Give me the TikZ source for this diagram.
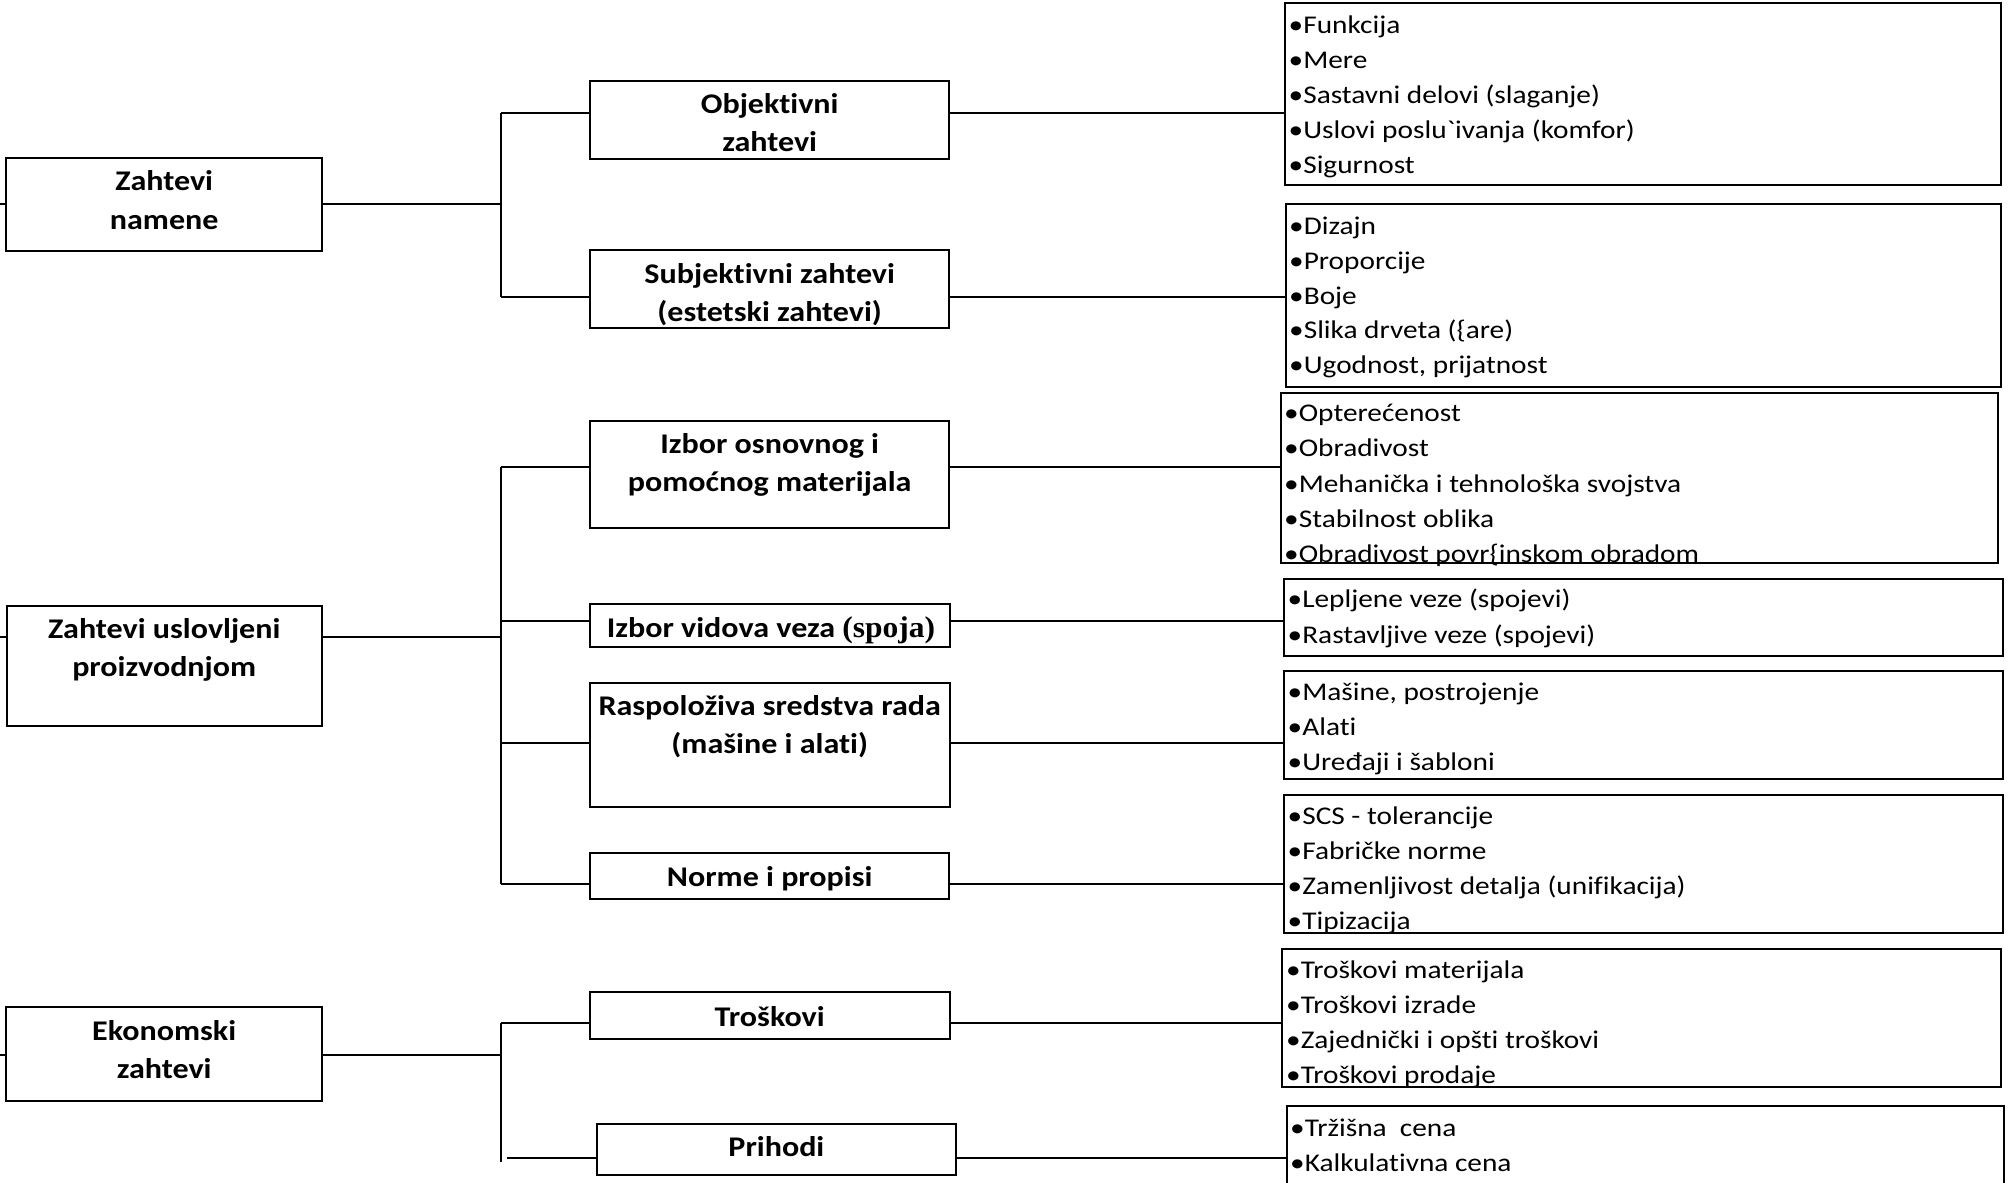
\documentclass[tikz,border=0pt]{standalone}
\usepackage{fontspec}
\newfontfamily\regf{Carlito}[FakeStretch=1.15,Ligatures={TeXOff,NoCommon}]
\newfontfamily\bldf{Carlito}[FakeStretch=1.125,Ligatures=NoCommon]
\newfontfamily\serf{Liberation Serif}[FakeStretch=1.05,BoldFont={Liberation Serif Bold}]
\newcommand\mybox[5]{\node[boxst, minimum width={(#4-#2)*1pt}, minimum height={(#5-#3)*1pt}] (#1) at ({(#2+#4)/2},{(#3+#5)/2}) {};}
\newcommand\myitems[5]{\foreach \t [count=\i from 0] in {#5} {\node[itx] (#1-\i) at (#2,{#3+\i*#4}) {•\t};}}
\begin{document}
\begin{tikzpicture}[x=1pt,y=-1pt,
  boxst/.style={draw, line width=2pt, inner sep=0pt},
  conn/.style={line width=2pt},
  itx/.style={font={\regf\fontsize{25.5pt}{35pt}\selectfont}, anchor=base west, inner sep=0pt},
  bt/.style={font={\bldf\bfseries\fontsize{28.5pt}{38pt}\selectfont}, anchor=base, inner sep=0pt}]
\fill[white] (0,0) rectangle (2011,1183);
\useasboundingbox (0,0) rectangle (2011,1183);

% left boxes
\mybox{L1}{6.4}{157.7}{322}{250.7}
\mybox{L2}{7}{606}{321.7}{726}
\mybox{L3}{6.4}{1006.7}{322}{1100.7}
\node[bt] (L1a) at (164.2,190.5) {Zahtevi};
\node[bt] (L1b) at (164.2,229) {namene};
\node[bt] (L2a) at (164.2,638.3) {Zahtevi uslovljeni};
\node[bt] (L2b) at (164.2,676.5) {proizvodnjom};
\node[bt] (L3a) at (164.2,1040) {Ekonomski};
\node[bt] (L3b) at (164.2,1078.3) {zahtevi};

% middle boxes
\mybox{M1}{590}{81}{949.3}{159}
\mybox{M2}{590}{250}{949.3}{328.3}
\mybox{M3}{590}{420.7}{949.3}{528.3}
\mybox{M4}{590}{604}{950}{647.3}
\mybox{M5}{590}{682.7}{950}{806.7}
\mybox{M6}{590}{852.7}{949.3}{899.3}
\mybox{M7}{590}{991.7}{950}{1039}
\mybox{M8}{596.5}{1124}{956.3}{1174.7}
\node[bt] (M1a) at (769.7,113.3) {Objektivni};
\node[bt] (M1b) at (769.7,151.7) {zahtevi};
\node[bt] (M2a) at (769.7,283.3) {Subjektivni zahtevi};
\node[bt] (M2b) at (769.7,321.3) {(estetski zahtevi)};
\node[bt] (M3a) at (769.7,453.3) {Izbor osnovnog i};
\node[bt] (M3b) at (769.7,491.7) {pomoćnog materijala};
\node[bt] (M4a) at (771,637.3) {Izbor vidova veza {\serf\bfseries\fontsize{30pt}{38pt}\selectfont (spoja)}};
\node[bt] (M5a) at (769.7,715) {Raspoloživa sredstva rada};
\node[bt] (M5b) at (769.7,753.5) {(mašine i alati)};
\node[bt] (M6a) at (769.7,886) {Norme i propisi};
\node[bt] (M7a) at (769.7,1026) {Troškovi};
\node[bt] (M8a) at (776.4,1156.7) {Prihodi};

% right boxes
\mybox{R1}{1285}{3.3}{2001}{185}
\mybox{R2}{1285.6}{204}{2001}{386.7}
\mybox{R3}{1280.5}{393.3}{1998}{562.7}
\mybox{R4}{1284}{579.3}{2002.6}{655.7}
\mybox{R5}{1284}{671}{2002.6}{779.3}
\mybox{R6}{1284}{795}{2002.6}{933.3}
\mybox{R7}{1282.4}{949.3}{2001.3}{1087.3}
\mybox{R8}{1286.7}{1106}{2004}{1200}
\myitems{R1t}{1288.5}{33.3}{35}{Funkcija,Mere,Sastavni delovi (slaganje),Uslovi poslu`ivanja (komfor),Sigurnost}
\myitems{R2t}{1289}{234.4}{34.8}{Dizajn,Proporcije,Boje,Slika drveta (\{are),{Ugodnost, prijatnost}}
\myitems{R3t}{1284}{421.7}{35.2}{Opterećenost,Obradivost,Mehanička i tehnološka svojstva,Stabilnost oblika,Obradivost povr\{inskom obradom}
\myitems{R4t}{1287.5}{607}{36}{Lepljene veze (spojevi),Rastavljive veze (spojevi)}
\myitems{R5t}{1287.5}{700}{35}{{Mašine, postrojenje},Alati,Uređaji i šabloni}
\myitems{R6t}{1287.5}{824}{35.3}{SCS - tolerancije,Fabričke norme,Zamenljivost detalja (unifikacija),Tipizacija}
\myitems{R7t}{1286}{978}{35.3}{Troškovi materijala,Troškovi izrade,Zajednički i opšti troškovi,Troškovi prodaje}
\myitems{R8t}{1290}{1136.7}{35}{Tržišna~~cena,Kalkulativna cena}

% junctions
\coordinate (s1) at (0,204);
\coordinate (s2) at (0,636.7);
\coordinate (s3) at (0,1054.5);
\coordinate (j1) at (500.6,204);
\coordinate (j1a) at (500.6,112.7);
\coordinate (j1b) at (500.6,296.7);
\coordinate (j2in) at (500.6,636.7);
\coordinate (j2a) at (500.6,467.3);
\coordinate (j2v) at (500.6,621.2);
\coordinate (j2r) at (500.6,742.5);
\coordinate (j2b) at (500.6,883.5);
\coordinate (j3in) at (500.6,1054.5);
\coordinate (j3a) at (500.6,1022.5);
\coordinate (j3b) at (500.6,1161.7);
\coordinate (j3p) at (506.7,1158.3);

% connectors
\draw[conn] (s1) -- (L1.west |- s1);
\draw[conn] (s2) -- (L2.west |- s2);
\draw[conn] (s3) -- (L3.west |- s3);
\draw[conn] (L1.east |- j1) -- (j1);
\draw[conn] (L2.east |- j2in) -- (j2in);
\draw[conn] (L3.east |- j3in) -- (j3in);
\draw[conn] (j1a) -- (j1b);
\draw[conn] (j2a) -- (j2b);
\draw[conn] (j3a) -- (j3b);
\draw[conn] (j1a) -- (M1.west |- j1a);
\draw[conn] (j1b) -- (M2.west |- j1b);
\draw[conn] (j2a) -- (M3.west |- j2a);
\draw[conn] (j2v) -- (M4.west |- j2v);
\draw[conn] (j2r) -- (M5.west |- j2r);
\draw[conn] (j2b) -- (M6.west |- j2b);
\draw[conn] (j3a) -- (M7.west |- j3a);
\draw[conn] (j3p) -- (M8.west |- j3p);
\draw[conn] (M1.east |- j1a) -- (R1.west |- j1a);
\draw[conn] (M2.east |- j1b) -- (R2.west |- j1b);
\draw[conn] (M3.east |- j2a) -- (R3.west |- j2a);
\draw[conn] (M4.east |- j2v) -- (R4.west |- j2v);
\draw[conn] (M5.east |- j2r) -- (R5.west |- j2r);
\draw[conn] (M6.east |- j2b) -- (R6.west |- j2b);
\draw[conn] (M7.east |- j3a) -- (R7.west |- j3a);
\draw[conn] (M8.east |- j3p) -- (R8.west |- j3p);
\end{tikzpicture}
\end{document}
